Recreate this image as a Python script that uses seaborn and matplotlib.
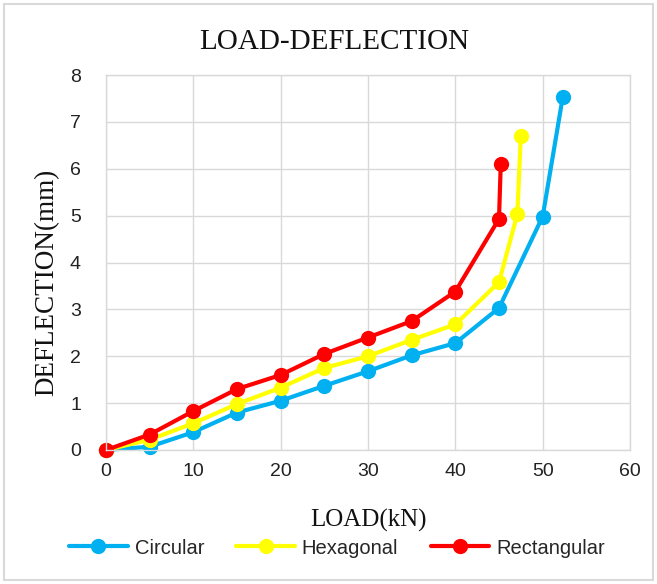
import matplotlib
matplotlib.use("Agg")
import matplotlib.pyplot as plt
import seaborn as sns
import pandas as pd
from matplotlib.patches import Rectangle
from matplotlib.lines import Line2D

circ_x = [0, 5, 10, 15, 20, 25, 30, 35, 40, 45, 50, 52.3]
circ_y = [0, 0.07, 0.38, 0.8, 1.05, 1.37, 1.68, 2.02, 2.28, 3.03, 4.98, 7.53]
hex_x = [0, 5, 10, 15, 20, 25, 30, 35, 40, 45, 47.1, 47.5]
hex_y = [0, 0.22, 0.57, 0.98, 1.33, 1.75, 2.0, 2.35, 2.68, 3.58, 5.03, 6.7]
rect_x = [0, 5, 10, 15, 20, 25, 30, 35, 40, 45, 45.2]
rect_y = [0, 0.33, 0.83, 1.3, 1.6, 2.05, 2.4, 2.75, 3.38, 4.93, 6.1]
series = ["Circular", "Hexagonal", "Rectangular"]
colors = ["#00B0F0", "#FFFF00", "#FF0000"]

frames = []
for name, xs, ys in zip(series, [circ_x, hex_x, rect_x], [circ_y, hex_y, rect_y]):
    frames.append(pd.DataFrame({"load": xs, "defl": ys, "shape": name}))
df = pd.concat(frames, ignore_index=True)

sns.set_theme(style="white")
fig = plt.figure(figsize=(6.57, 5.84), dpi=100)
ax = fig.add_axes([106/657, 1-450/584, (630-106)/657, (450-75)/584])

MS = 11
LW = 3
sns.lineplot(data=df, x="load", y="defl", hue="shape", palette=colors, sort=False,
             units="shape", estimator=None, marker="o", markersize=MS, markeredgewidth=0,
             linewidth=LW, ax=ax, legend=False)

ax.set_xlim(0, 60)
ax.set_ylim(0, 8)
ax.set_xticks(range(0, 61, 10))
ax.set_yticks(range(0, 9))
ax.grid(True, color="#D9D9D9", linewidth=1)
ax.set_axisbelow(True)
for s in ax.spines.values():
    s.set_color("#D9D9D9")
    s.set_linewidth(1)
ax.tick_params(axis="x", length=0, labelsize=14, pad=9, colors="#222222")
ax.tick_params(axis="y", length=0, labelsize=14, pad=18, colors="#222222")
for lab in ax.get_xticklabels() + ax.get_yticklabels():
    lab.set_fontfamily("Liberation Sans")
for l in ax.lines:
    l.set_clip_on(False)

ax.set_xlabel("LOAD(kN)", fontfamily="Liberation Serif", fontsize=18, labelpad=21, color="#111111")
ax.set_ylabel("")
fig.text(47/657, 1-282/584, "DEFLECTION(mm)", fontfamily="Liberation Serif", fontsize=19.5,
         rotation=90, ha="center", va="center", color="#111111")
fig.text(334/657, 1-42/584, "LOAD-DEFLECTION", fontfamily="Liberation Serif", fontsize=21,
         ha="center", va="center", color="#111111")

handles = [Line2D([0], [0], color=c, marker="o", markersize=MS, markeredgewidth=0, linewidth=LW)
           for c in colors]
fig.legend(handles, series, loc="center", bbox_to_anchor=(337/657, 1-548/584), ncol=3,
           frameon=False, prop={"family": "Liberation Sans", "size": 14.5}, handlelength=2.9,
           columnspacing=1.6, handletextpad=0.35)

fig.patches.append(Rectangle((4/657, 4/584), 1-8/657, 1-8/584, transform=fig.transFigure,
                             fill=False, edgecolor="#D9D9D9", linewidth=1.5))
fig.savefig("out.png", dpi=100)
